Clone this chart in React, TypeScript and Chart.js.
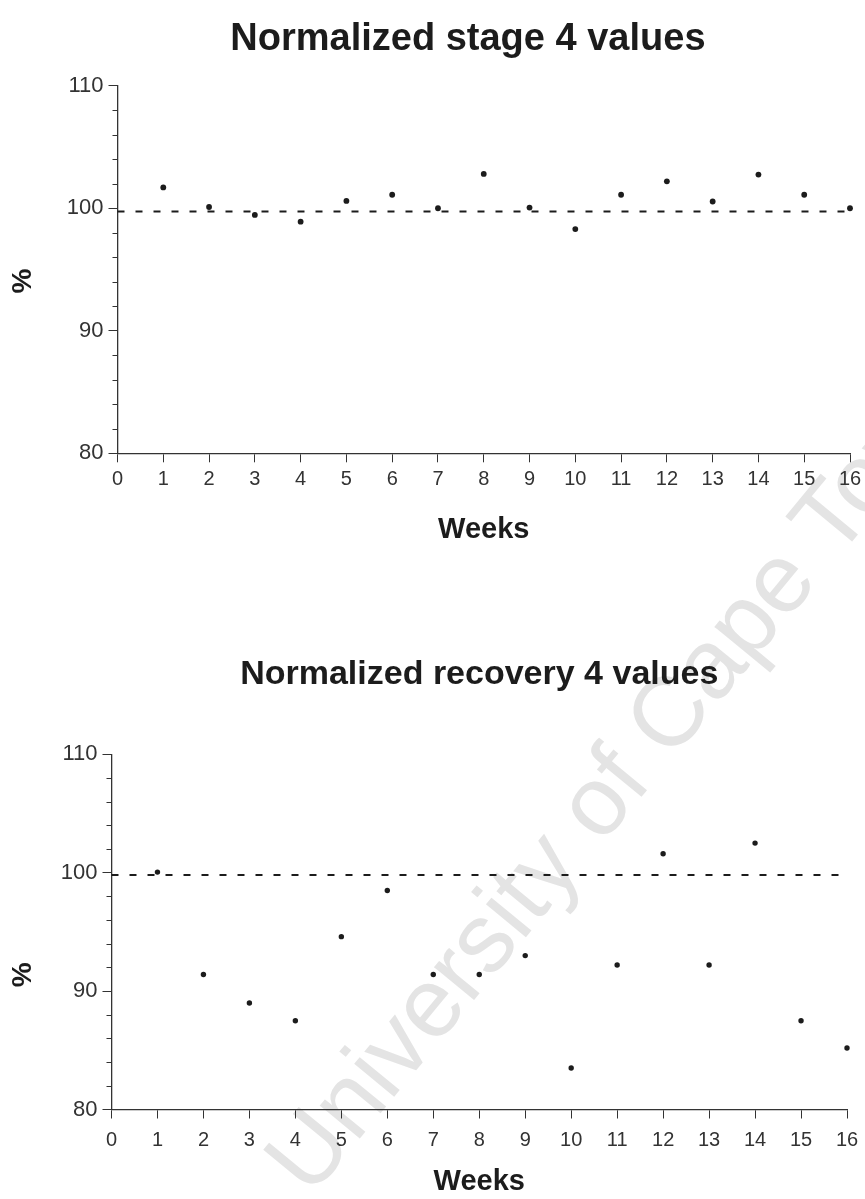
import React, { useEffect, useRef } from "react";
import { Chart, registerables } from "chart.js";

Chart.register(...registerables);

// ---------- data ----------
const weeks = [1, 2, 3, 4, 5, 6, 7, 8, 9, 10, 11, 12, 13, 14, 15, 16];
const stageValues = [101.7, 100.1, 99.45, 98.9, 100.6, 101.1, 100.0, 102.8, 100.05, 98.3, 101.1, 102.2, 100.55, 102.75, 101.1, 100.0];
const recoveryValues = [100.05, 91.4, 89.0, 87.5, 94.6, 98.5, 91.4, 91.4, 93.0, 83.5, 92.2, 101.6, 92.2, 102.5, 87.5, 85.2];
const referenceStage = 99.73;
const referenceRecovery = 99.8;
const xRange = [0, 16];
const yRange = [80, 110];
const yMajorStep = 10;
const yMinorStep = 2;
const titleStage = "Normalized stage 4 values";
const titleRecovery = "Normalized recovery 4 values";
const xTitle = "Weeks";
const yTitle = "%";
const watermark = "University of Cape Town";

const FONT = "'Liberation Sans', Arial, Helvetica, sans-serif";
const AXIS = "#333333";
const INK = "#1c1c1c";
const NB = "\u00a0";

const minorTicks = {
  id: "minorTicks",
  afterDraw(chart: any, _args: any, opts: any) {
    const y = chart.scales.y;
    const ctx = chart.ctx;
    ctx.save();
    ctx.strokeStyle = AXIS;
    ctx.lineWidth = 1;
    for (let v = y.min; v <= y.max + 1e-9; v += opts.step) {
      if (Math.abs(v % yMajorStep) < 1e-9) continue;
      const py = Math.round(y.getPixelForValue(v)) + 0.5;
      ctx.beginPath();
      ctx.moveTo(y.right - opts.length, py);
      ctx.lineTo(y.right, py);
      ctx.stroke();
    }
    ctx.restore();
  },
};

type Layout = {
  title: string;
  titleSize: number;
  values: number[];
  reference: number;
  titlePadTop: number;
  titlePadBottom: number;
  yWidth: number;
  xHeight: number;
  padRight: number;
  xTickLineHeight: number;
  xTitlePadBottom: number;
  yTitleText: string;
  yTitlePad: number;
  pointRadius: number;
};

function makeConfig(L: Layout): any {
  return {
    type: "scatter",
    data: {
      datasets: [
        {
          type: "line",
          data: [
            { x: xRange[0], y: L.reference },
            { x: xRange[1], y: L.reference },
          ],
          borderColor: INK,
          borderWidth: 2,
          borderDash: [7, 11],
          pointRadius: 0,
          fill: false,
          clip: false,
        },
        {
          data: weeks.map((w, i) => ({ x: w, y: L.values[i] })),
          pointRadius: L.pointRadius,
          pointBackgroundColor: INK,
          pointBorderWidth: 0,
          backgroundColor: INK,
          clip: false,
        },
      ],
    },
    options: {
      animation: false,
      responsive: false,
      devicePixelRatio: 1,
      layout: { padding: { left: 0, right: L.padRight, top: 0, bottom: 0 } },
      plugins: {
        legend: { display: false },
        tooltip: { enabled: false },
        title: {
          display: true,
          text: L.title,
          fullSize: false,
          color: INK,
          font: { family: FONT, size: L.titleSize, weight: "bold", lineHeight: 1.2 },
          padding: { top: L.titlePadTop, bottom: L.titlePadBottom },
        },
        minorTicks: { step: yMinorStep, length: 5 },
      },
      scales: {
        x: {
          type: "linear",
          min: xRange[0],
          max: xRange[1],
          afterFit: (s: any) => {
            s.height = L.xHeight;
          },
          ticks: {
            stepSize: 1,
            color: AXIS,
            padding: 0,
            maxRotation: 0,
            autoSkip: false,
            font: { family: FONT, size: 20, lineHeight: L.xTickLineHeight },
          },
          grid: { drawOnChartArea: false, drawTicks: true, tickLength: 9, tickColor: AXIS, tickWidth: 1 },
          border: { display: true, color: AXIS, width: 1.3 },
          title: {
            display: true,
            text: xTitle,
            color: INK,
            font: { family: FONT, size: 29, weight: "bold", lineHeight: 1.2 },
            padding: { top: 0, bottom: L.xTitlePadBottom },
          },
        },
        y: {
          type: "linear",
          min: yRange[0],
          max: yRange[1],
          afterFit: (s: any) => {
            s.width = L.yWidth;
          },
          ticks: {
            stepSize: yMajorStep,
            color: AXIS,
            padding: 5,
            font: { family: FONT, size: 22, lineHeight: 1 },
          },
          grid: { drawOnChartArea: false, drawTicks: true, tickLength: 9, tickColor: AXIS, tickWidth: 1 },
          border: { display: true, color: AXIS, width: 1.3 },
          title: {
            display: true,
            text: L.yTitleText,
            color: INK,
            font: { family: FONT, size: 28, weight: "bold", lineHeight: 1.2 },
            padding: { top: L.yTitlePad, bottom: 0 },
          },
        },
      },
    },
    plugins: [minorTicks],
  };
}

function ChartCanvas({ layout, width, height, top }: { layout: Layout; width: number; height: number; top: number }) {
  const ref = useRef<HTMLCanvasElement | null>(null);
  useEffect(() => {
    if (!ref.current) return;
    const chart = new Chart(ref.current, makeConfig(layout));
    return () => chart.destroy();
  }, []);
  return (
    <canvas
      ref={ref}
      width={width}
      height={height}
      style={{ position: "absolute", left: 0, top, width, height }}
    />
  );
}

const stageLayout: Layout = {
  title: titleStage + NB + NB + NB,
  titleSize: 38,
  values: stageValues,
  reference: referenceStage,
  titlePadTop: 17.2,
  titlePadBottom: 22.9,
  yWidth: 117.5,
  xHeight: 106.7,
  padRight: 15,
  xTickLineHeight: 1.75,
  xTitlePadBottom: 12.6,
  yTitleText: yTitle + NB + NB + NB,
  yTitlePad: 6,
  pointRadius: 2.9,
};

const recoveryLayout: Layout = {
  title: titleRecovery,
  titleSize: 34,
  values: recoveryValues,
  reference: referenceRecovery,
  titlePadTop: 54.6,
  titlePadBottom: 58.9,
  yWidth: 111.5,
  xHeight: 89.5,
  padRight: 18,
  xTickLineHeight: 2.2,
  xTitlePadBottom: 0,
  yTitleText: yTitle + NB.repeat(11),
  yTitlePad: 6,
  pointRadius: 2.7,
};

export default function App() {
  return (
    <div
      style={{
        position: "absolute",
        left: 0,
        top: 0,
        width: 865,
        height: 1199,
        overflow: "hidden",
        background: "#ffffff",
      }}
    >
      <div
        style={{
          position: "absolute",
          left: 322,
          top: 1208 - 98,
          height: 98,
          lineHeight: "98px",
          fontSize: 98,
          fontFamily: FONT,
          color: "#e4e4e4",
          whiteSpace: "nowrap",
          transformOrigin: "left bottom",
          transform: "rotate(-50.5deg)",
        }}
      >
        {watermark}
      </div>
      <ChartCanvas layout={stageLayout} width={865} height={560} top={0} />
      <ChartCanvas layout={recoveryLayout} width={865} height={599} top={600} />
    </div>
  );
}
